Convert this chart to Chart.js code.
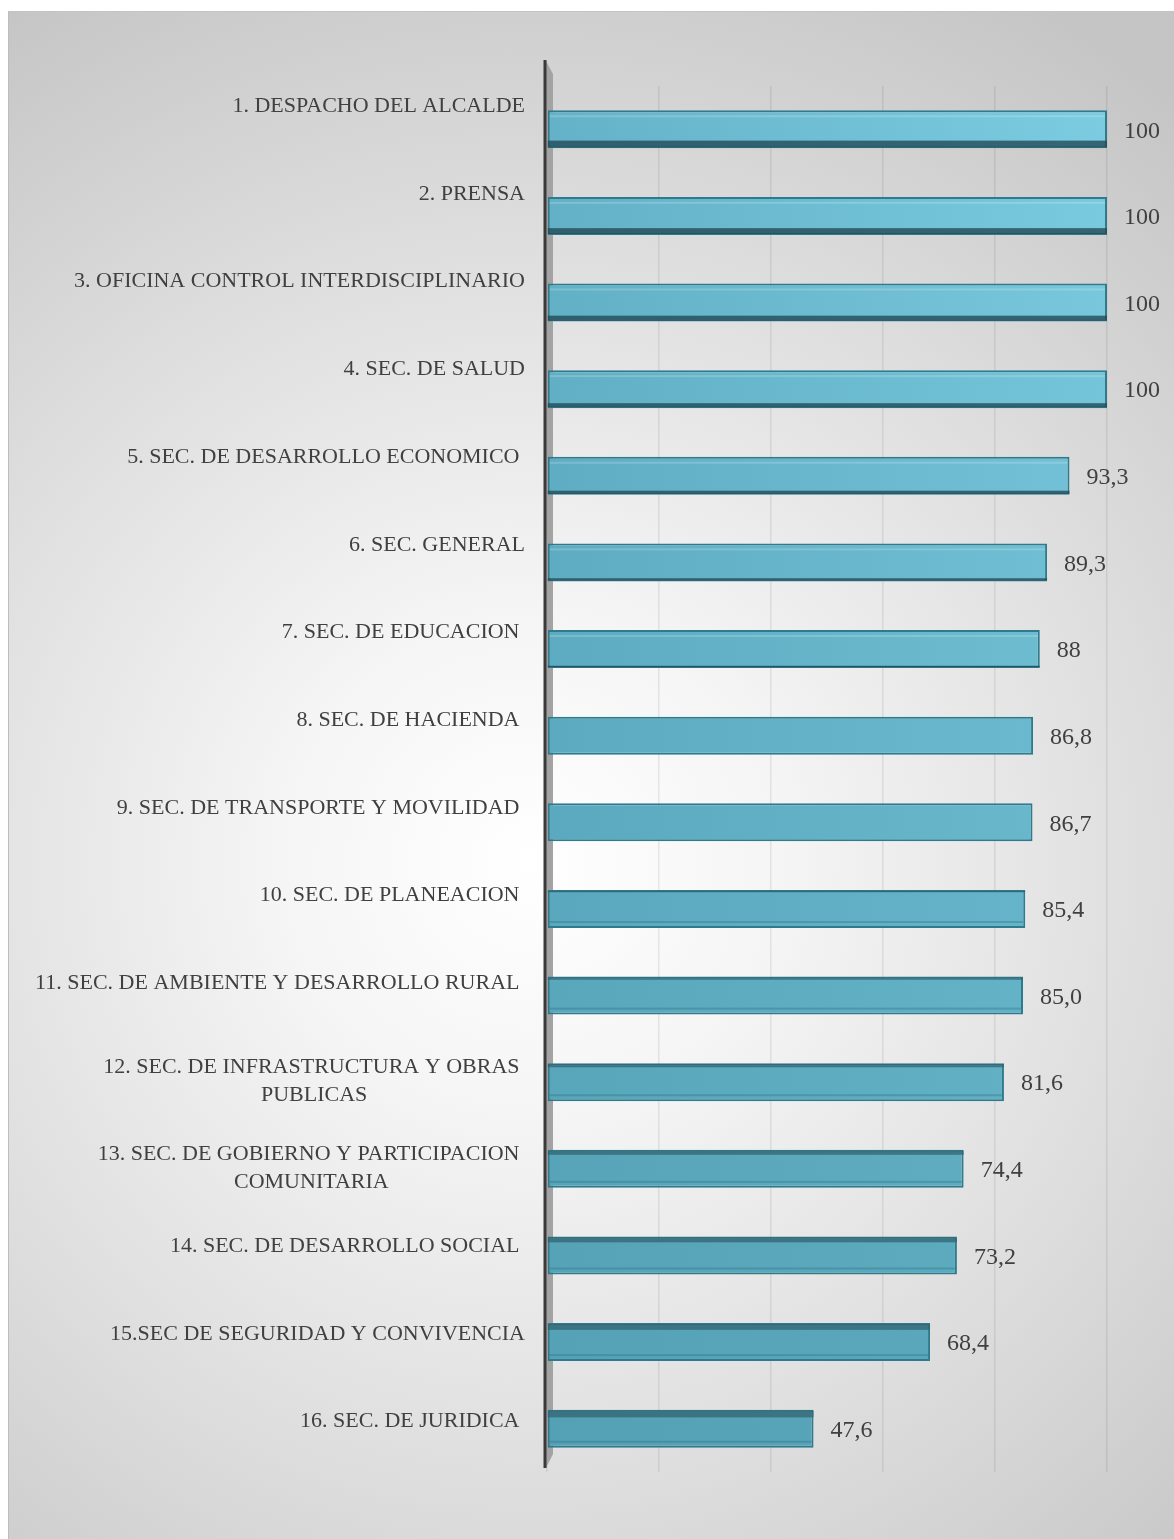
<!DOCTYPE html>
<html lang="es">
<head>
    <meta charset="UTF-8">
    <title>Cumplimiento por dependencia</title>
    <script src="https://cdn.jsdelivr.net/npm/chart.js"></script>
    <style>
        body { margin: 0; background: #ffffff; }
        #panel {
            position: absolute; left: 8px; top: 11px; width: 1166px; height: 1528px;
            border-left: 1px solid #bdbdbd; border-top: 1px solid #c4c4c4;
            background: radial-gradient(circle 1000px at 520px 850px, #ffffff 0%, #f5f5f5 25%, #dedede 62%, #c5c5c5 100%);
        }
    </style>
</head>
<body>
    <div id="panel">
        <canvas id="chart" width="1165" height="1527"></canvas>
    </div>
    <script>
        // Dependencias (los espacios finales son como en el original)
        var categorias = [
            '1. DESPACHO DEL ALCALDE',
            '2. PRENSA',
            '3. OFICINA CONTROL INTERDISCIPLINARIO',
            '4. SEC. DE SALUD',
            '5. SEC. DE DESARROLLO ECONOMICO ',
            '6. SEC. GENERAL',
            '7. SEC. DE EDUCACION ',
            '8. SEC. DE HACIENDA ',
            '9. SEC. DE TRANSPORTE Y MOVILIDAD ',
            '10. SEC. DE PLANEACION ',
            '11. SEC. DE AMBIENTE Y DESARROLLO RURAL ',
            ['12. SEC. DE INFRASTRUCTURA Y OBRAS ', 'PUBLICAS'],
            ['13. SEC. DE GOBIERNO Y PARTICIPACION ', 'COMUNITARIA'],
            '14. SEC. DE DESARROLLO SOCIAL ',
            '15.SEC DE SEGURIDAD Y CONVIVENCIA',
            '16. SEC. DE JURIDICA '
        ];
        var valores = [100, 100, 100, 100, 93.3, 89.3, 88, 86.8, 86.7, 85.4, 85.0, 81.6, 74.4, 73.2, 68.4, 47.6];
        var etiquetasValor = ['100', '100', '100', '100', '93,3', '89,3', '88', '86,8', '86,7', '85,4', '85,0', '81,6', '74,4', '73,2', '68,4', '47,6'];

        var fuente = "'Liberation Serif', 'Times New Roman', serif";
        var colorTexto = '#404040';

        function mezcla(a, b, t) {
            var r = Math.round(a[0] + (b[0] - a[0]) * t);
            var g = Math.round(a[1] + (b[1] - a[1]) * t);
            var bl = Math.round(a[2] + (b[2] - a[2]) * t);
            return 'rgb(' + r + ',' + g + ',' + bl + ')';
        }

        // Relleno con degradado, más claro arriba y a la derecha
        function rellenoBarra(context) {
            var chart = context.chart;
            var area = chart.chartArea;
            if (!area) return '#62afc4';
            var i = context.dataIndex;
            var t = i / (categorias.length - 1);
            var g = chart.ctx.createLinearGradient(area.left, 0, area.right, 0);
            g.addColorStop(0, mezcla([99, 178, 200], [84, 161, 181], t));
            g.addColorStop(1, mezcla([124, 204, 225], [91, 168, 188], t));
            return g;
        }

        var efectos = {
            id: 'efectos',
            beforeDatasetsDraw: function(chart) {
                var ctx = chart.ctx;
                var area = chart.chartArea;
                // sombra del eje vertical
                ctx.save();
                ctx.fillStyle = '#a3a3a3';
                ctx.beginPath();
                ctx.moveTo(area.left - 1, area.top - 25);
                ctx.lineTo(area.left + 6, area.top - 12);
                ctx.lineTo(area.left + 6, area.bottom - 18);
                ctx.lineTo(area.left - 1, area.bottom - 4);
                ctx.closePath();
                ctx.fill();
                ctx.restore();
            },
            afterDatasetsDraw: function(chart) {
                var ctx = chart.ctx;
                var area = chart.chartArea;
                var meta = chart.getDatasetMeta(0);
                var n = categorias.length;
                ctx.save();
                meta.data.forEach(function(bar, i) {
                    var izq = bar.base, der = bar.x;
                    var arriba = bar.y - bar.height / 2, abajo = bar.y + bar.height / 2;
                    var s = (7.5 - i) * 0.9; // cara inferior (arriba) o superior (abajo) en perspectiva
                    if (s > 0.5) {
                        ctx.fillStyle = 'rgba(35, 75, 86, 0.8)';
                        ctx.fillRect(izq, abajo - s - 1, der - izq, s);
                        ctx.fillStyle = 'rgba(255,255,255,0.18)';
                        ctx.fillRect(izq + 2, arriba + 5, der - izq - 4, 2);
                    } else if (s < -0.5) {
                        ctx.fillStyle = 'rgba(50, 100, 114, 0.75)';
                        ctx.fillRect(izq, arriba + 1, der - izq, -s);
                        ctx.fillStyle = 'rgba(40, 110, 130, 0.35)';
                        ctx.fillRect(izq + 2, abajo - 7, der - izq - 4, 2);
                    }
                    // etiqueta de valor
                    ctx.fillStyle = colorTexto;
                    ctx.font = '24px ' + fuente;
                    ctx.textAlign = 'left';
                    ctx.textBaseline = 'middle';
                    ctx.fillText(etiquetasValor[i], der + 17, bar.y + 2);
                });

                // eje vertical
                ctx.strokeStyle = '#3a3a3a';
                ctx.lineWidth = 3;
                ctx.beginPath();
                ctx.moveTo(area.left - 2, area.top - 26);
                ctx.lineTo(area.left - 2, area.bottom - 4);
                ctx.stroke();

                // etiquetas de categoría
                var ys = chart.scales.y;
                var xDer = area.left - 22;
                ctx.font = '22px ' + fuente;
                ctx.fillStyle = colorTexto;
                ctx.textBaseline = 'middle';
                categorias.forEach(function(cat, i) {
                    var yc = ys.getPixelForValue(i) - 23 + 16 * i / (n - 1);
                    if (Array.isArray(cat)) {
                        var ancho = 0;
                        cat.forEach(function(l) { ancho = Math.max(ancho, ctx.measureText(l).width); });
                        var centro = xDer - ancho / 2;
                        ctx.textAlign = 'center';
                        cat.forEach(function(l, k) {
                            ctx.fillText(l, centro, yc - 14 + k * 28 + 10);
                        });
                    } else {
                        ctx.textAlign = 'right';
                        ctx.fillText(cat, xDer, yc);
                    }
                });
                ctx.restore();
            }
        };

        var chart = new Chart(document.getElementById('chart'), {
            type: 'bar',
            data: {
                labels: categorias,
                datasets: [{
                    data: valores,
                    backgroundColor: rellenoBarra,
                    borderColor: '#2f7b8e',
                    borderWidth: 2,
                    borderSkipped: false,
                    categoryPercentage: 0.88,
                    barPercentage: 0.5
                }]
            },
            options: {
                indexAxis: 'y',
                responsive: false,
                animation: false,
                layout: { padding: { left: 530, right: 67, top: 74, bottom: 67 } },
                plugins: {
                    legend: { display: false },
                    tooltip: { enabled: false }
                },
                scales: {
                    x: {
                        min: 0, max: 100,
                        ticks: { display: false, stepSize: 20 },
                        grid: { color: 'rgba(0,0,0,0.08)', lineWidth: 1.5, drawTicks: false },
                        border: { display: false }
                    },
                    y: {
                        ticks: { display: false },
                        grid: { display: false },
                        border: { display: false }
                    }
                }
            },
            plugins: [efectos]
        });
    </script>
</body>
</html>
